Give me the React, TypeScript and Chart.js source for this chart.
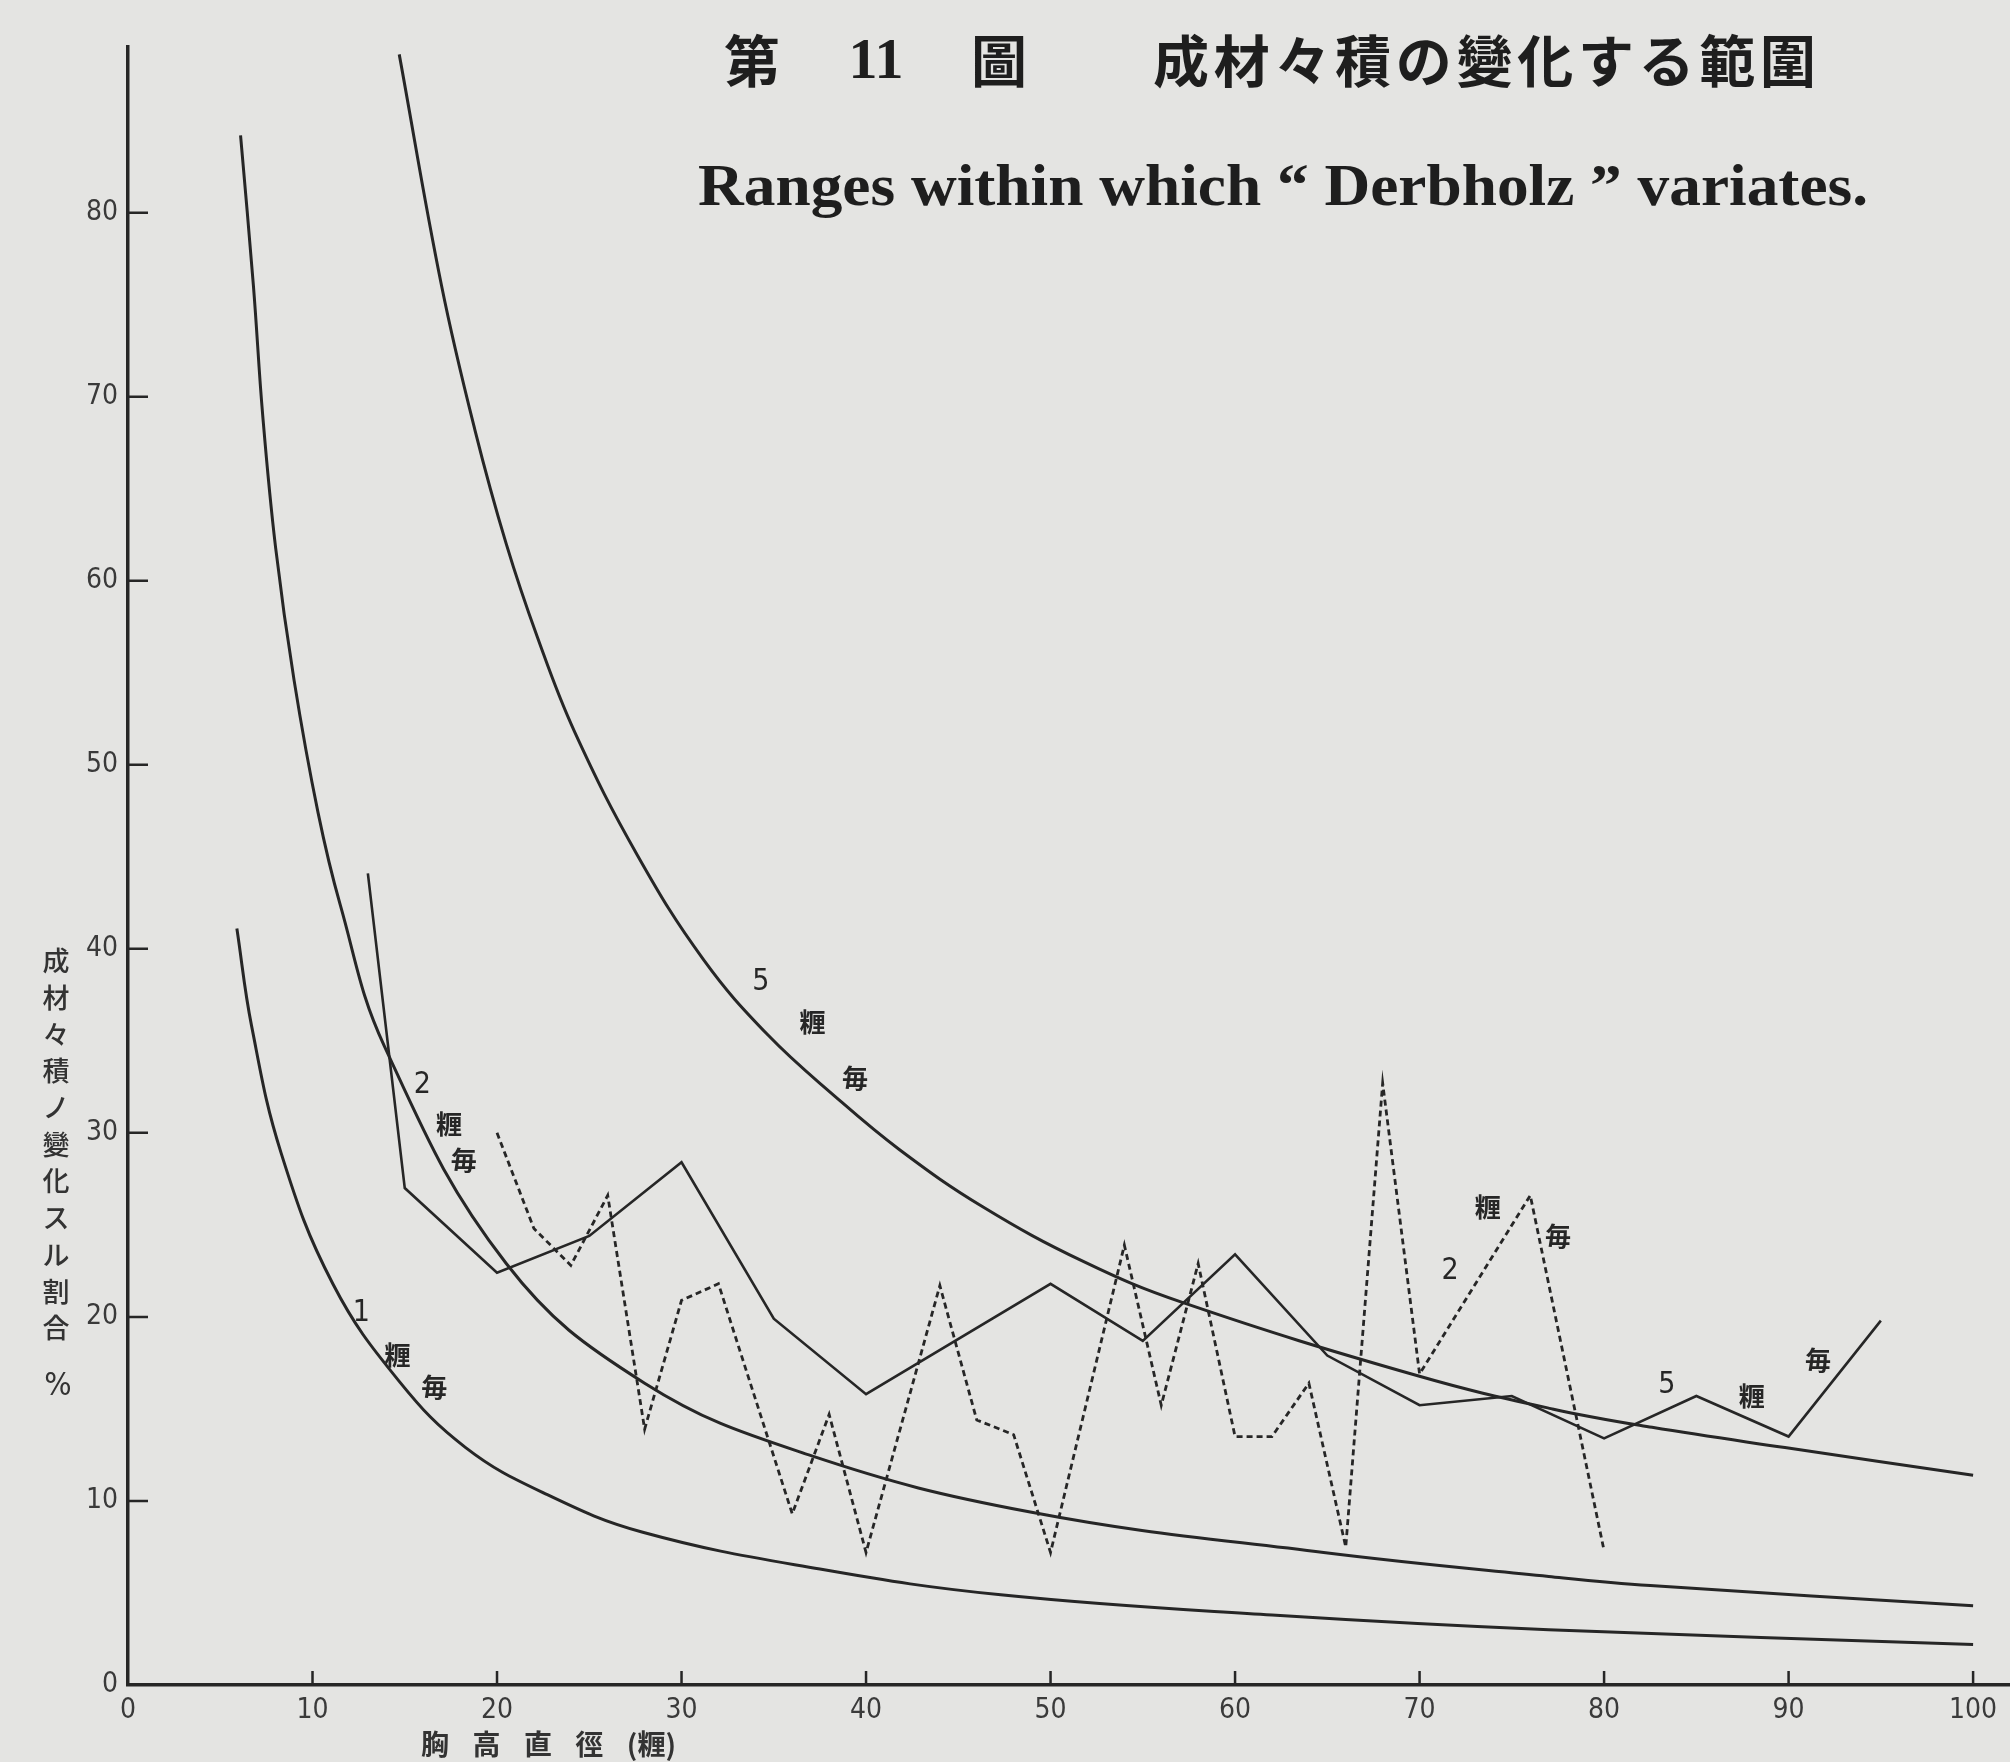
import React, { useEffect, useRef } from "react";
import { Chart, registerables } from "chart.js";

Chart.register(...registerables);

// ---------- data ----------
// smooth limit curves: "1 糎毎", "2 糎毎", "5 糎毎"
const curve1X = [5.9, 6.7, 8.3, 11.1, 14.7, 18.3, 22.6, 27.9, 37.5, 47.3, 62, 77, 100];
const curve1Y = [41.1, 35.8, 28.9, 21.8, 16.5, 12.9, 10.4, 8.3, 6.3, 4.9, 3.8, 3.0, 2.2];

const curve2X = [6.1, 6.8, 7.3, 8.0, 9.0, 10.3, 11.5, 13.9, 20.5, 28.0, 36.9, 48.9, 64.8, 77, 82.5, 100];
const curve2Y = [84.2, 76.0, 69.0, 61.8, 54.6, 47.4, 42.4, 34.7, 22.9, 16.4, 12.5, 9.4, 7.2, 5.9, 5.4, 4.3];

const curve5X = [14.7, 17.0, 18.8, 20.5, 22.2, 24.2, 27.6, 31.2, 34.7, 38.3, 41.8, 46.3, 51.8, 57.1, 69.9, 77.2, 82.6, 89.8, 100];
const curve5Y = [88.6, 76.0, 68.2, 62.0, 56.9, 51.8, 45.1, 39.4, 35.3, 32.0, 29.1, 26.0, 23.0, 20.8, 16.8, 15.0, 14.0, 12.9, 11.4];

// observed zig-zag, 5 cm classes (solid)
const solidX = [13, 15, 20, 25, 30, 35, 40, 50, 55, 60, 65, 70, 75, 80, 85, 90, 95];
const solidY = [44.1, 27.0, 22.4, 24.4, 28.4, 19.9, 15.8, 21.8, 18.7, 23.4, 17.9, 15.2, 15.7, 13.4, 15.7, 13.5, 19.8];

// observed zig-zag, 2 cm classes (dashed)
const dashedX = [20, 22, 24, 26, 28, 30, 32, 36, 38, 40, 44, 46, 48, 50, 54, 56, 58, 60, 62, 64, 66, 68, 70, 76, 80];
const dashedY = [30.0, 24.8, 22.8, 26.6, 13.9, 20.9, 21.8, 9.3, 14.7, 7.2, 21.7, 14.4, 13.6, 7.2, 23.9, 15.2, 22.9, 13.5, 13.5, 16.4, 7.5, 32.7, 16.9, 26.6, 7.3];

// axis ticks
const xTickValues = [0, 10, 20, 30, 40, 50, 60, 70, 80, 90, 100];
const yTickValues = [0, 10, 20, 30, 40, 50, 60, 70, 80];

// texts
const titleNo = ["第", "11", "圖"];
const titleJa = "成材々積の變化する範圍";
const titleEn = "Ranges within which \u201C Derbholz \u201D variates.";
const xAxisTitle = ["胸", "高", "直", "徑", "(糎)"];
const yAxisTitle = "成材々積ノ變化スル割合";
const yAxisUnit = "%";

// curve labels, anchored in data units
const labelText = ["1", "糎", "毎", "2", "糎", "毎", "5", "糎", "毎", "2", "糎", "毎", "5", "糎", "毎"];
const labelX = [12.65, 14.6, 16.6, 15.95, 17.4, 18.2, 34.3, 37.1, 39.4, 71.65, 73.7, 77.5, 83.4, 88.0, 91.6];
const labelY = [20.2, 17.9, 16.2, 32.6, 30.5, 28.5, 38.2, 36.0, 33.0, 22.5, 25.95, 24.4, 16.3, 15.7, 17.65];

// ---------- styling ----------
const PAPER = "#e4e4e2";
const INK = "#262626";
const W = 2010;
const H = 1762;
const NARROW = "'Liberation Sans Narrow', 'DejaVu Sans Condensed', 'Liberation Sans', sans-serif";
const CJK = "'Noto Sans CJK JP', 'Noto Sans CJK SC', sans-serif";
const SERIF = "'Liberation Serif', 'DejaVu Serif', serif";

const pts = (xs: number[], ys: number[]) => xs.map((x, i) => ({ x, y: ys[i] }));

function drawSpaced(ctx: CanvasRenderingContext2D, parts: string[], x0: number, x1: number, y: number) {
  const widths = parts.map((p) => ctx.measureText(p).width);
  const total = widths.reduce((a, b) => a + b, 0);
  const gap = parts.length > 1 ? (x1 - x0 - total) / (parts.length - 1) : 0;
  let x = x0;
  ctx.textAlign = "left";
  parts.forEach((p, i) => {
    ctx.fillText(p, x, y);
    x += widths[i] + gap;
  });
}

const paperPlugin = {
  id: "paper",
  beforeDraw(chart: any) {
    const ctx = chart.ctx;
    ctx.save();
    ctx.fillStyle = PAPER;
    ctx.fillRect(0, 0, chart.width, chart.height);
    ctx.restore();
  },
};

const decorPlugin = {
  id: "decor",
  afterDraw(chart: any) {
    const ctx: CanvasRenderingContext2D = chart.ctx;
    const { left, bottom } = chart.chartArea;
    const xs = chart.scales.x;
    const ys = chart.scales.y;
    ctx.save();

    // inward tick marks
    ctx.strokeStyle = INK;
    ctx.lineWidth = 2.5;
    ctx.beginPath();
    yTickValues.filter((v) => v > 0).forEach((v) => {
      const py = ys.getPixelForValue(v);
      ctx.moveTo(left, py);
      ctx.lineTo(left + 20, py);
    });
    xTickValues.filter((v) => v > 0).forEach((v) => {
      const px = xs.getPixelForValue(v);
      ctx.moveTo(px, bottom);
      ctx.lineTo(px, bottom - 14);
    });
    ctx.stroke();

    // curve labels
    ctx.fillStyle = INK;
    ctx.textBaseline = "middle";
    ctx.textAlign = "center";
    labelText.forEach((t, i) => {
      const isDigit = /[0-9]/.test(t);
      ctx.font = isDigit ? `30px ${NARROW}` : `bold 26px ${CJK}`;
      ctx.fillText(t, xs.getPixelForValue(labelX[i]), ys.getPixelForValue(labelY[i]));
    });

    // y axis title (vertical)
    ctx.fillStyle = "#333";
    ctx.font = `500 27px ${CJK}`;
    ctx.textAlign = "center";
    Array.from(yAxisTitle).forEach((ch, i) => {
      ctx.fillText(ch, 56, 961 + i * 36.7);
    });
    ctx.font = `32px ${NARROW}`;
    ctx.fillText(yAxisUnit, 58, 1387);

    // x axis title
    ctx.font = `bold 28px ${CJK}`;
    drawSpaced(ctx, xAxisTitle, 421, 676, 1744);

    // main title, line 1
    ctx.fillStyle = "#1e1e1e";
    ctx.textAlign = "center";
    ctx.font = `bold 56px ${CJK}`;
    ctx.fillText(titleNo[0], 752, 61);
    ctx.fillText(titleNo[2], 999, 61);
    ctx.font = `bold 58px ${SERIF}`;
    ctx.fillText(titleNo[1], 876, 63);
    ctx.font = `bold 56px ${CJK}`;
    drawSpaced(ctx, Array.from(titleJa), 1153, 1816, 61);

    // main title, line 2 (fitted to its printed width)
    ctx.font = `bold 60px ${SERIF}`;
    ctx.textBaseline = "alphabetic";
    ctx.textAlign = "left";
    const w = ctx.measureText(titleEn).width;
    ctx.translate(698, 205);
    ctx.scale(1170 / w, 1);
    ctx.fillText(titleEn, 0, 0);

    ctx.restore();
  },
};

export default function App() {
  const ref = useRef<HTMLCanvasElement>(null);

  useEffect(() => {
    const canvas = ref.current;
    if (!canvas) return;
    const tickFont = { family: NARROW, size: 28 };
    const lineBase = { borderColor: INK, pointRadius: 0, fill: false };
    const chart = new Chart(canvas, {
      type: "line",
      data: {
        datasets: [
          { ...lineBase, label: "1 糎毎", data: pts(curve1X, curve1Y), borderWidth: 3, tension: 0.4 },
          { ...lineBase, label: "2 糎毎", data: pts(curve2X, curve2Y), borderWidth: 3, tension: 0.4 },
          { ...lineBase, label: "5 糎毎", data: pts(curve5X, curve5Y), borderWidth: 3, tension: 0.4 },
          { ...lineBase, label: "5 糎毎 實測", data: pts(solidX, solidY), borderWidth: 2.6, tension: 0 },
          { ...lineBase, label: "2 糎毎 實測", data: pts(dashedX, dashedY), borderWidth: 2.8, tension: 0, borderDash: [6, 4] },
        ] as any,
      },
      options: {
        responsive: false,
        animation: false,
        devicePixelRatio: 1,
        layout: { padding: { top: 47, left: 0, right: 0, bottom: 0 } },
        plugins: {
          legend: { display: false },
          tooltip: { enabled: false },
          title: { display: false },
        },
        elements: { point: { radius: 0 } },
        scales: {
          x: {
            type: "linear",
            min: 0,
            max: 102,
            afterFit: (s: any) => {
              s.height = H - 1685;
            },
            afterBuildTicks: (s: any) => {
              s.ticks = xTickValues.map((v) => ({ value: v }));
            },
            grid: { display: true, drawOnChartArea: false, drawTicks: false, color: "rgba(0,0,0,0)" },
            border: { display: true, color: INK, width: 3.5 },
            ticks: { padding: 9, font: tickFont, color: "#3a3a3a", maxRotation: 0, autoSkip: false },
          },
          y: {
            type: "linear",
            min: 0,
            max: 89,
            afterFit: (s: any) => {
              s.width = 128;
            },
            afterBuildTicks: (s: any) => {
              s.ticks = yTickValues.map((v) => ({ value: v }));
            },
            grid: { display: true, drawOnChartArea: false, drawTicks: false, color: "rgba(0,0,0,0)" },
            border: { display: true, color: INK, width: 3.5 },
            ticks: { padding: 10, font: tickFont, color: "#3a3a3a", autoSkip: false },
          },
        },
      } as any,
      plugins: [paperPlugin, decorPlugin],
    });
    return () => chart.destroy();
  }, []);

  return (
    <div style={{ position: "fixed", left: 0, top: 0, width: W, height: H, background: PAPER }}>
      <canvas ref={ref} width={W} height={H} style={{ display: "block", width: W, height: H }} />
    </div>
  );
}
